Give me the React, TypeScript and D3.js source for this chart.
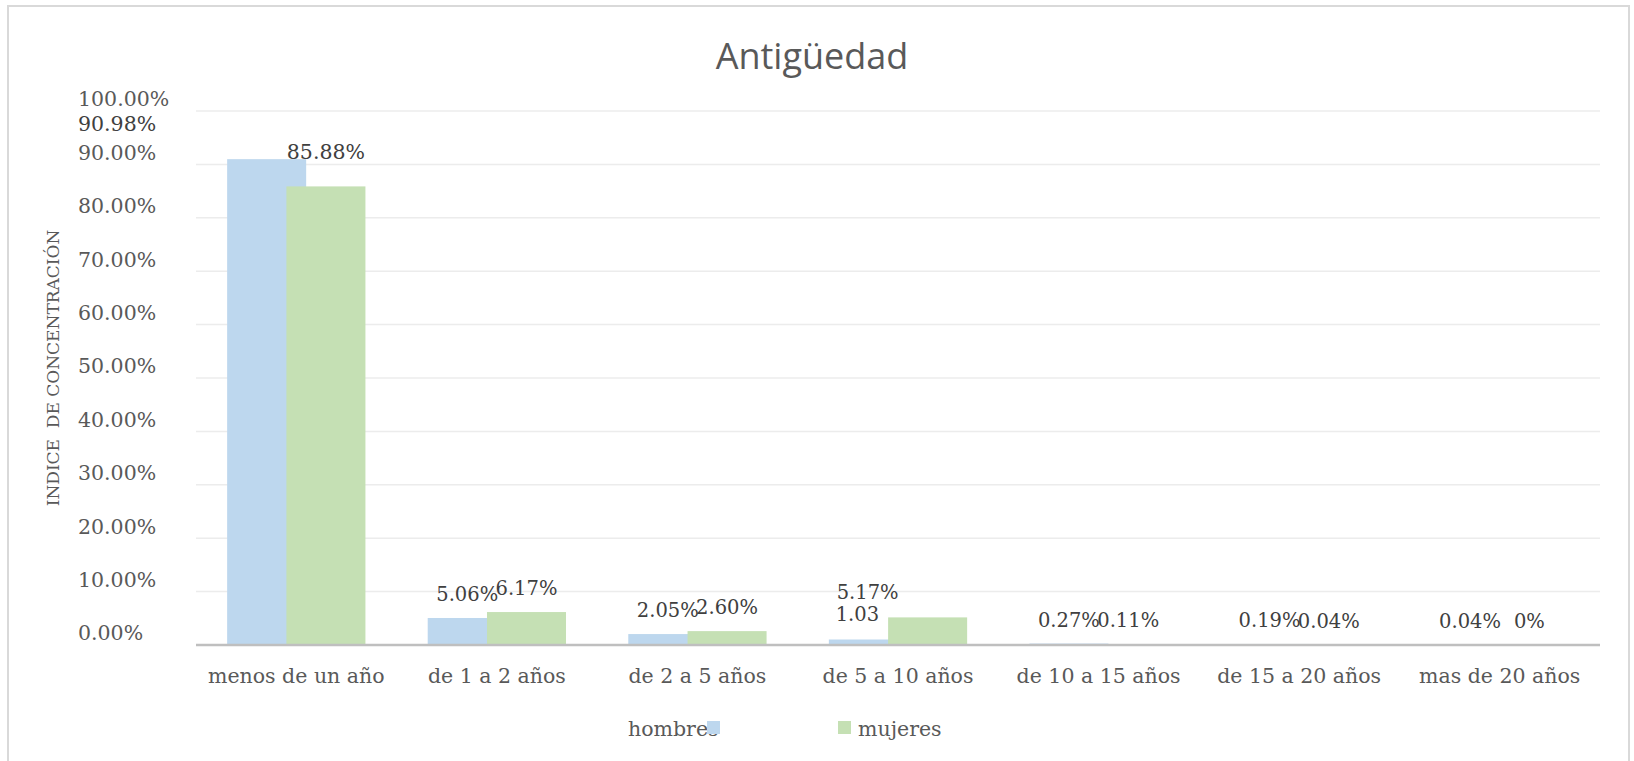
import React from "react";
import * as d3 from "d3";

const categories = [
  "menos de un año",
  "de 1 a 2 años",
  "de 2 a 5 años",
  "de 5 a 10 años",
  "de 10 a 15 años",
  "de 15 a 20 años",
  "mas de 20 años",
];
const hombres = [0.9098, 0.0506, 0.0205, 0.0103, 0.0027, 0.0019, 0.0004];
const mujeres = [0.8588, 0.0617, 0.026, 0.0517, 0.0011, 0.0004, 0];
const hombresLabels = ["90.98%", "5.06%", "2.05%", "1.03", "0.27%", "0.19%", "0.04%"];
const mujeresLabels = ["85.88%", "6.17%", "2.60%", "5.17%", "0.11%", "0.04%", "0%"];
const yTicks = [0, 0.1, 0.2, 0.3, 0.4, 0.5, 0.6, 0.7, 0.8, 0.9, 1.0];
const seriesNames = ["hombres", "mujeres"];

const W = 1634;
const H = 761;
const COLORS = ["#bdd7ee", "#c5e0b4"];
const SERIF = "'DejaVu Serif', serif";
const TXT = "#595959";
const LBL = "#404040";
const LFS = 19.5;

// label nudges (dx, dy relative to default placement)
const nudgeH: Record<number, [number, number]> = { 3: [-11, -2] };
const nudgeM: Record<number, [number, number]> = { 0: [0, -11], 3: [-60, -1] };

export default function App() {
  const x = d3.scaleBand<string>().domain(categories).range([196, 1600]);
  const y = d3.scaleLinear().domain([0, 1]).range([645, 111]);
  const bw = x.bandwidth() * 0.394;
  const ov = bw * 0.25;
  const groupW = 2 * bw - ov;
  const pct = d3.format(".2%");

  const barX = (i: number, s: number) => {
    const c = (x(categories[i]) as number) + x.bandwidth() / 2;
    const start = c - groupW / 2;
    return s === 0 ? start : start + bw - ov;
  };

  return (
    <svg
      width={W}
      height={H}
      style={{ position: "absolute", left: 0, top: 0, background: "#fff" }}
    >
      <rect x={8} y={6} width={1621} height={770} fill="#fff" stroke="#d9d9d9" strokeWidth={2} />
      <text x={812} y={69} textAnchor="middle" fontFamily="'Open Sans', sans-serif" fontSize={36} fill={TXT}>
        Antigüedad
      </text>

      {/* gridlines */}
      {yTicks.slice(1).map((t) => (
        <line key={t} x1={196} x2={1600} y1={y(t)} y2={y(t)} stroke="#ececec" strokeWidth={1.5} />
      ))}

      {/* y tick labels */}
      {yTicks.map((t) => (
        <text key={"yt" + t} x={78} y={y(t) - 12} dy="0.36em" fontFamily={SERIF} fontSize={20.5} fill={TXT}>
          {pct(t)}
        </text>
      ))}

      {/* y axis title */}
      <text
        transform={`translate(53,368) rotate(-90)`}
        textAnchor="middle"
        dy="0.36em"
        fontFamily={SERIF}
        fontSize={17}
        fill={TXT}
        style={{ whiteSpace: "pre" }}
      >
        {"INDICE  DE CONCENTRACIÓN"}
      </text>

      {/* bars */}
      {[hombres, mujeres].map((vals, s) =>
        vals.map((v, i) => (
          <rect
            key={`b${s}-${i}`}
            x={barX(i, s)}
            y={y(v)}
            width={bw}
            height={y(0) - y(v)}
            fill={COLORS[s]}
          />
        ))
      )}

      {/* axis line */}
      <line x1={196} x2={1600} y1={y(0)} y2={y(0)} stroke="#bfbfbf" strokeWidth={2.5} />

      {/* category labels */}
      {categories.map((c) => (
        <text
          key={c}
          x={(x(c) as number) + x.bandwidth() / 2}
          y={676}
          dy="0.36em"
          textAnchor="middle"
          fontFamily={SERIF}
          fontSize={20.5}
          fill={TXT}
        >
          {c}
        </text>
      ))}

      {/* data labels hombres */}
      {hombres.map((v, i) => {
        if (i === 0) {
          return (
            <text key={"lh" + i} x={78} y={y(v) - 36} dy="0.36em" fontFamily={SERIF} fontSize={20.5} fill={LBL}>
              {hombresLabels[i]}
            </text>
          );
        }
        const [dx, dy] = nudgeH[i] || [0, 0];
        return (
          <text
            key={"lh" + i}
            x={barX(i, 0) + bw / 2 + dx}
            y={y(v) - 24 + dy}
            dy="0.36em"
            textAnchor="middle"
            fontFamily={SERIF}
            fontSize={LFS}
            fill={LBL}
          >
            {hombresLabels[i]}
          </text>
        );
      })}

      {/* data labels mujeres */}
      {mujeres.map((v, i) => {
        const [dx, dy] = nudgeM[i] || [0, 0];
        return (
          <text
            key={"lm" + i}
            x={barX(i, 1) + bw / 2 + dx}
            y={y(v) - 24 + dy}
            dy="0.36em"
            textAnchor="middle"
            fontFamily={SERIF}
            fontSize={i === 0 ? 20.5 : LFS}
            fill={LBL}
          >
            {mujeresLabels[i]}
          </text>
        );
      })}

      {/* legend */}
      <text x={628} y={736} fontFamily={SERIF} fontSize={20.5} fill={TXT}>
        {seriesNames[0]}
      </text>
      <rect x={707} y={721} width={13} height={13} fill={COLORS[0]} />
      <rect x={838} y={721} width={13} height={13} fill={COLORS[1]} />
      <text x={858} y={736} fontFamily={SERIF} fontSize={20.5} fill={TXT}>
        {seriesNames[1]}
      </text>
    </svg>
  );
}
